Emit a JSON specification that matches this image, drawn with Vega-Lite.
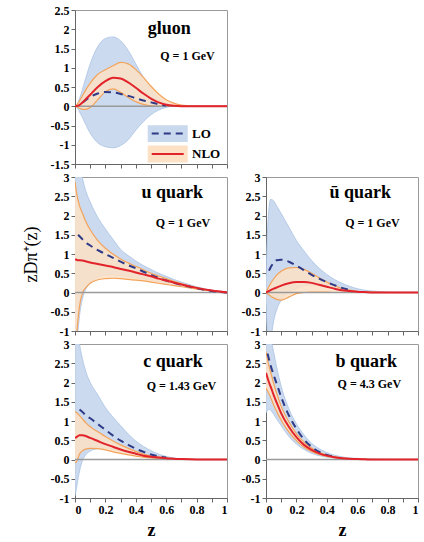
{
  "$schema": "https://vega.github.io/schema/vega-lite/v6.json",
  "padding": {"left": 21, "top": 3, "right": 0, "bottom": 0},
  "background": "white",
  "columns": 2,
  "bounds": "flush",
  "spacing": {"row": 13, "column": 39},
  "datasets": {
    "g": [
      {"z": 0, "lo": null, "lo_lo": 0, "lo_hi": 0, "nlo": 0, "nlo_lo": 0, "nlo_hi": 0},
      {"z": 0.01, "lo": null, "lo_lo": -0.03, "lo_hi": 0.03, "nlo": 0.005, "nlo_lo": -0.01, "nlo_hi": 0.03},
      {"z": 0.02, "lo": null, "lo_lo": -0.08, "lo_hi": 0.1, "nlo": 0.015, "nlo_lo": -0.03, "nlo_hi": 0.08},
      {"z": 0.03, "lo": null, "lo_lo": -0.15, "lo_hi": 0.2, "nlo": 0.035, "nlo_lo": -0.05, "nlo_hi": 0.14},
      {"z": 0.05, "lo": 0.1, "lo_lo": -0.3, "lo_hi": 0.45, "nlo": 0.1, "nlo_lo": -0.08, "nlo_hi": 0.28},
      {"z": 0.07, "lo": 0.16, "lo_lo": -0.47, "lo_hi": 0.72, "nlo": 0.18, "nlo_lo": -0.08, "nlo_hi": 0.42},
      {"z": 0.1, "lo": 0.24, "lo_lo": -0.7, "lo_hi": 1.1, "nlo": 0.3, "nlo_lo": -0.03, "nlo_hi": 0.6},
      {"z": 0.15, "lo": 0.33, "lo_lo": -0.95, "lo_hi": 1.55, "nlo": 0.5, "nlo_lo": 0.17, "nlo_hi": 0.83},
      {"z": 0.2, "lo": 0.37, "lo_lo": -1.05, "lo_hi": 1.76, "nlo": 0.65, "nlo_lo": 0.38, "nlo_hi": 0.95},
      {"z": 0.25, "lo": 0.36, "lo_lo": -1.08, "lo_hi": 1.8, "nlo": 0.74, "nlo_lo": 0.45, "nlo_hi": 1.05},
      {"z": 0.3, "lo": 0.32, "lo_lo": -1.02, "lo_hi": 1.7, "nlo": 0.72, "nlo_lo": 0.36, "nlo_hi": 1.14},
      {"z": 0.35, "lo": 0.27, "lo_lo": -0.87, "lo_hi": 1.45, "nlo": 0.62, "nlo_lo": 0.23, "nlo_hi": 1.1},
      {"z": 0.4, "lo": 0.21, "lo_lo": -0.62, "lo_hi": 1.1, "nlo": 0.48, "nlo_lo": 0.12, "nlo_hi": 0.95},
      {"z": 0.45, "lo": 0.15, "lo_lo": -0.4, "lo_hi": 0.75, "nlo": 0.33, "nlo_lo": 0.05, "nlo_hi": 0.75},
      {"z": 0.5, "lo": 0.1, "lo_lo": -0.22, "lo_hi": 0.45, "nlo": 0.2, "nlo_lo": 0.01, "nlo_hi": 0.52},
      {"z": 0.55, "lo": 0.05, "lo_lo": -0.1, "lo_hi": 0.22, "nlo": 0.1, "nlo_lo": 0, "nlo_hi": 0.32},
      {"z": 0.6, "lo": 0.02, "lo_lo": -0.03, "lo_hi": 0.08, "nlo": 0.04, "nlo_lo": 0, "nlo_hi": 0.17},
      {"z": 0.65, "lo": null, "lo_lo": 0, "lo_hi": 0.02, "nlo": 0.01, "nlo_lo": 0, "nlo_hi": 0.08},
      {"z": 0.7, "lo": null, "lo_lo": 0, "lo_hi": 0, "nlo": 0, "nlo_lo": 0, "nlo_hi": 0.03},
      {"z": 0.8, "lo": null, "lo_lo": 0, "lo_hi": 0, "nlo": 0, "nlo_lo": 0, "nlo_hi": 0},
      {"z": 0.9, "lo": null, "lo_lo": 0, "lo_hi": 0, "nlo": 0, "nlo_lo": 0, "nlo_hi": 0},
      {"z": 1, "lo": null, "lo_lo": 0, "lo_hi": 0, "nlo": 0, "nlo_lo": 0, "nlo_hi": 0}
    ],
    "u": [
      {"z": 0, "lo": null, "lo_lo": -3, "lo_hi": 5, "nlo": 0.86, "nlo_lo": -2.2, "nlo_hi": 2.88},
      {"z": 0.01, "lo": null, "lo_lo": -1.6, "lo_hi": 4, "nlo": 0.85, "nlo_lo": -1.2, "nlo_hi": 2.6},
      {"z": 0.02, "lo": 1.5, "lo_lo": -1.0, "lo_hi": 3.6, "nlo": 0.84, "nlo_lo": -0.7, "nlo_hi": 2.4},
      {"z": 0.03, "lo": 1.46, "lo_lo": -0.6, "lo_hi": 3.3, "nlo": 0.84, "nlo_lo": -0.35, "nlo_hi": 2.25},
      {"z": 0.05, "lo": 1.38, "lo_lo": -0.15, "lo_hi": 2.95, "nlo": 0.83, "nlo_lo": 0, "nlo_hi": 2.05},
      {"z": 0.07, "lo": 1.3, "lo_lo": 0.08, "lo_hi": 2.65, "nlo": 0.81, "nlo_lo": 0.12, "nlo_hi": 1.85},
      {"z": 0.1, "lo": 1.22, "lo_lo": 0.25, "lo_hi": 2.35, "nlo": 0.78, "nlo_lo": 0.24, "nlo_hi": 1.63},
      {"z": 0.15, "lo": 1.1, "lo_lo": 0.4, "lo_hi": 1.95, "nlo": 0.74, "nlo_lo": 0.33, "nlo_hi": 1.35},
      {"z": 0.2, "lo": 1.0, "lo_lo": 0.45, "lo_hi": 1.65, "nlo": 0.7, "nlo_lo": 0.36, "nlo_hi": 1.15},
      {"z": 0.25, "lo": 0.9, "lo_lo": 0.45, "lo_hi": 1.38, "nlo": 0.66, "nlo_lo": 0.37, "nlo_hi": 1.0},
      {"z": 0.3, "lo": 0.8, "lo_lo": 0.43, "lo_hi": 1.12, "nlo": 0.61, "nlo_lo": 0.36, "nlo_hi": 0.87},
      {"z": 0.35, "lo": 0.71, "lo_lo": 0.41, "lo_hi": 0.96, "nlo": 0.57, "nlo_lo": 0.34, "nlo_hi": 0.77},
      {"z": 0.4, "lo": 0.63, "lo_lo": 0.38, "lo_hi": 0.82, "nlo": 0.52, "nlo_lo": 0.32, "nlo_hi": 0.68},
      {"z": 0.45, "lo": 0.54, "lo_lo": 0.35, "lo_hi": 0.7, "nlo": 0.47, "nlo_lo": 0.3, "nlo_hi": 0.59},
      {"z": 0.5, "lo": 0.46, "lo_lo": 0.32, "lo_hi": 0.6, "nlo": 0.42, "nlo_lo": 0.27, "nlo_hi": 0.5},
      {"z": 0.55, "lo": 0.38, "lo_lo": 0.28, "lo_hi": 0.5, "nlo": 0.36, "nlo_lo": 0.24, "nlo_hi": 0.43},
      {"z": 0.6, "lo": 0.31, "lo_lo": 0.25, "lo_hi": 0.42, "nlo": 0.31, "nlo_lo": 0.21, "nlo_hi": 0.36},
      {"z": 0.65, "lo": 0.25, "lo_lo": 0.21, "lo_hi": 0.34, "nlo": 0.26, "nlo_lo": 0.18, "nlo_hi": 0.29},
      {"z": 0.7, "lo": 0.2, "lo_lo": 0.17, "lo_hi": 0.27, "nlo": 0.21, "nlo_lo": 0.15, "nlo_hi": 0.23},
      {"z": 0.8, "lo": 0.11, "lo_lo": 0.1, "lo_hi": 0.15, "nlo": 0.12, "nlo_lo": 0.09, "nlo_hi": 0.13},
      {"z": 0.9, "lo": 0.04, "lo_lo": 0.04, "lo_hi": 0.06, "nlo": 0.05, "nlo_lo": 0.04, "nlo_hi": 0.05},
      {"z": 1, "lo": 0, "lo_lo": 0, "lo_hi": 0, "nlo": 0, "nlo_lo": 0, "nlo_hi": 0}
    ],
    "ub": [
      {"z": 0, "lo": null, "lo_lo": -0.3, "lo_hi": 0.4, "nlo": 0, "nlo_lo": 0, "nlo_hi": 0},
      {"z": 0.01, "lo": null, "lo_lo": -1.2, "lo_hi": 1.6, "nlo": 0.02, "nlo_lo": -0.03, "nlo_hi": 0.08},
      {"z": 0.02, "lo": 0.57, "lo_lo": -1.6, "lo_hi": 2.2, "nlo": 0.04, "nlo_lo": -0.06, "nlo_hi": 0.16},
      {"z": 0.03, "lo": 0.65, "lo_lo": -1.3, "lo_hi": 2.42, "nlo": 0.06, "nlo_lo": -0.09, "nlo_hi": 0.23},
      {"z": 0.05, "lo": 0.77, "lo_lo": -0.75, "lo_hi": 2.38, "nlo": 0.1, "nlo_lo": -0.14, "nlo_hi": 0.35},
      {"z": 0.07, "lo": 0.84, "lo_lo": -0.45, "lo_hi": 2.25, "nlo": 0.13, "nlo_lo": -0.18, "nlo_hi": 0.45},
      {"z": 0.1, "lo": 0.85, "lo_lo": -0.2, "lo_hi": 2.05, "nlo": 0.18, "nlo_lo": -0.2, "nlo_hi": 0.55},
      {"z": 0.15, "lo": 0.8, "lo_lo": 0, "lo_hi": 1.7, "nlo": 0.24, "nlo_lo": -0.12, "nlo_hi": 0.64},
      {"z": 0.2, "lo": 0.7, "lo_lo": 0.1, "lo_hi": 1.35, "nlo": 0.27, "nlo_lo": -0.03, "nlo_hi": 0.65},
      {"z": 0.25, "lo": 0.58, "lo_lo": 0.17, "lo_hi": 1.08, "nlo": 0.27, "nlo_lo": 0, "nlo_hi": 0.6},
      {"z": 0.3, "lo": 0.46, "lo_lo": 0.19, "lo_hi": 0.83, "nlo": 0.25, "nlo_lo": 0.01, "nlo_hi": 0.5},
      {"z": 0.35, "lo": 0.36, "lo_lo": 0.17, "lo_hi": 0.63, "nlo": 0.2, "nlo_lo": 0.01, "nlo_hi": 0.38},
      {"z": 0.4, "lo": 0.27, "lo_lo": 0.13, "lo_hi": 0.47, "nlo": 0.15, "nlo_lo": 0.01, "nlo_hi": 0.27},
      {"z": 0.45, "lo": 0.19, "lo_lo": 0.09, "lo_hi": 0.34, "nlo": 0.1, "nlo_lo": 0, "nlo_hi": 0.18},
      {"z": 0.5, "lo": 0.12, "lo_lo": 0.06, "lo_hi": 0.24, "nlo": 0.06, "nlo_lo": 0, "nlo_hi": 0.1},
      {"z": 0.55, "lo": 0.07, "lo_lo": 0.04, "lo_hi": 0.16, "nlo": 0.04, "nlo_lo": 0, "nlo_hi": 0.06},
      {"z": 0.6, "lo": null, "lo_lo": 0.02, "lo_hi": 0.1, "nlo": 0.02, "nlo_lo": 0, "nlo_hi": 0.03},
      {"z": 0.65, "lo": null, "lo_lo": 0.01, "lo_hi": 0.06, "nlo": 0.01, "nlo_lo": 0, "nlo_hi": 0.02},
      {"z": 0.7, "lo": null, "lo_lo": 0, "lo_hi": 0.04, "nlo": 0, "nlo_lo": 0, "nlo_hi": 0.01},
      {"z": 0.8, "lo": null, "lo_lo": 0, "lo_hi": 0.01, "nlo": 0, "nlo_lo": 0, "nlo_hi": 0},
      {"z": 0.9, "lo": null, "lo_lo": 0, "lo_hi": 0, "nlo": 0, "nlo_lo": 0, "nlo_hi": 0},
      {"z": 1, "lo": null, "lo_lo": 0, "lo_hi": 0, "nlo": 0, "nlo_lo": 0, "nlo_hi": 0}
    ],
    "c": [
      {"z": 0, "lo": null, "lo_lo": -0.95, "lo_hi": 4.5, "nlo": 0.56, "nlo_lo": -0.08, "nlo_hi": 1.24},
      {"z": 0.01, "lo": null, "lo_lo": -0.75, "lo_hi": 3.8, "nlo": 0.58, "nlo_lo": -0.06, "nlo_hi": 1.22},
      {"z": 0.02, "lo": null, "lo_lo": -0.5, "lo_hi": 3.3, "nlo": 0.61, "nlo_lo": 0.04, "nlo_hi": 1.18},
      {"z": 0.03, "lo": 1.3, "lo_lo": -0.3, "lo_hi": 3.0, "nlo": 0.63, "nlo_lo": 0.14, "nlo_hi": 1.14},
      {"z": 0.05, "lo": 1.23, "lo_lo": -0.02, "lo_hi": 2.6, "nlo": 0.63, "nlo_lo": 0.23, "nlo_hi": 1.05},
      {"z": 0.07, "lo": 1.15, "lo_lo": 0.12, "lo_hi": 2.3, "nlo": 0.61, "nlo_lo": 0.27, "nlo_hi": 0.96},
      {"z": 0.1, "lo": 1.07, "lo_lo": 0.22, "lo_hi": 2.0, "nlo": 0.56, "nlo_lo": 0.29, "nlo_hi": 0.85},
      {"z": 0.15, "lo": 0.92, "lo_lo": 0.28, "lo_hi": 1.68, "nlo": 0.48, "nlo_lo": 0.28, "nlo_hi": 0.72},
      {"z": 0.2, "lo": 0.77, "lo_lo": 0.29, "lo_hi": 1.35, "nlo": 0.4, "nlo_lo": 0.25, "nlo_hi": 0.6},
      {"z": 0.25, "lo": 0.62, "lo_lo": 0.26, "lo_hi": 1.1, "nlo": 0.33, "nlo_lo": 0.2, "nlo_hi": 0.48},
      {"z": 0.3, "lo": 0.49, "lo_lo": 0.22, "lo_hi": 0.88, "nlo": 0.26, "nlo_lo": 0.16, "nlo_hi": 0.38},
      {"z": 0.35, "lo": 0.38, "lo_lo": 0.17, "lo_hi": 0.66, "nlo": 0.2, "nlo_lo": 0.12, "nlo_hi": 0.29},
      {"z": 0.4, "lo": 0.28, "lo_lo": 0.12, "lo_hi": 0.48, "nlo": 0.15, "nlo_lo": 0.09, "nlo_hi": 0.21},
      {"z": 0.45, "lo": 0.2, "lo_lo": 0.08, "lo_hi": 0.34, "nlo": 0.1, "nlo_lo": 0.06, "nlo_hi": 0.14},
      {"z": 0.5, "lo": 0.13, "lo_lo": 0.05, "lo_hi": 0.23, "nlo": 0.07, "nlo_lo": 0.04, "nlo_hi": 0.09},
      {"z": 0.55, "lo": 0.08, "lo_lo": 0.03, "lo_hi": 0.14, "nlo": 0.05, "nlo_lo": 0.03, "nlo_hi": 0.06},
      {"z": 0.6, "lo": 0.05, "lo_lo": 0.02, "lo_hi": 0.08, "nlo": 0.03, "nlo_lo": 0.02, "nlo_hi": 0.04},
      {"z": 0.65, "lo": null, "lo_lo": 0.01, "lo_hi": 0.04, "nlo": 0.02, "nlo_lo": 0.01, "nlo_hi": 0.02},
      {"z": 0.7, "lo": null, "lo_lo": 0, "lo_hi": 0.02, "nlo": 0.01, "nlo_lo": 0.005, "nlo_hi": 0.01},
      {"z": 0.8, "lo": null, "lo_lo": 0, "lo_hi": 0, "nlo": 0, "nlo_lo": 0, "nlo_hi": 0},
      {"z": 0.9, "lo": null, "lo_lo": 0, "lo_hi": 0, "nlo": 0, "nlo_lo": 0, "nlo_hi": 0},
      {"z": 1, "lo": null, "lo_lo": 0, "lo_hi": 0, "nlo": 0, "nlo_lo": 0, "nlo_hi": 0}
    ],
    "b": [
      {"z": 0, "lo": null, "lo_lo": 1.2, "lo_hi": 4.0, "nlo": 2.25, "nlo_lo": 1.85, "nlo_hi": 2.8},
      {"z": 0.01, "lo": 2.75, "lo_lo": 1.28, "lo_hi": 3.7, "nlo": 2.12, "nlo_lo": 1.78, "nlo_hi": 2.6},
      {"z": 0.02, "lo": 2.6, "lo_lo": 1.3, "lo_hi": 3.45, "nlo": 2.0, "nlo_lo": 1.7, "nlo_hi": 2.42},
      {"z": 0.03, "lo": 2.45, "lo_lo": 1.28, "lo_hi": 3.2, "nlo": 1.9, "nlo_lo": 1.62, "nlo_hi": 2.28},
      {"z": 0.05, "lo": 2.2, "lo_lo": 1.18, "lo_hi": 2.8, "nlo": 1.68, "nlo_lo": 1.42, "nlo_hi": 1.98},
      {"z": 0.07, "lo": 1.97, "lo_lo": 1.05, "lo_hi": 2.4, "nlo": 1.48, "nlo_lo": 1.25, "nlo_hi": 1.72},
      {"z": 0.1, "lo": 1.62, "lo_lo": 0.88, "lo_hi": 1.9, "nlo": 1.2, "nlo_lo": 1.02, "nlo_hi": 1.38},
      {"z": 0.15, "lo": 1.15, "lo_lo": 0.6, "lo_hi": 1.32, "nlo": 0.85, "nlo_lo": 0.72, "nlo_hi": 0.98},
      {"z": 0.2, "lo": 0.8, "lo_lo": 0.4, "lo_hi": 0.93, "nlo": 0.58, "nlo_lo": 0.49, "nlo_hi": 0.67},
      {"z": 0.25, "lo": 0.52, "lo_lo": 0.26, "lo_hi": 0.64, "nlo": 0.38, "nlo_lo": 0.32, "nlo_hi": 0.45},
      {"z": 0.3, "lo": 0.33, "lo_lo": 0.16, "lo_hi": 0.42, "nlo": 0.25, "nlo_lo": 0.21, "nlo_hi": 0.3},
      {"z": 0.35, "lo": 0.2, "lo_lo": 0.1, "lo_hi": 0.28, "nlo": 0.16, "nlo_lo": 0.13, "nlo_hi": 0.19},
      {"z": 0.4, "lo": 0.12, "lo_lo": 0.06, "lo_hi": 0.18, "nlo": 0.1, "nlo_lo": 0.08, "nlo_hi": 0.12},
      {"z": 0.45, "lo": 0.07, "lo_lo": 0.04, "lo_hi": 0.11, "nlo": 0.06, "nlo_lo": 0.05, "nlo_hi": 0.07},
      {"z": 0.5, "lo": null, "lo_lo": 0.02, "lo_hi": 0.07, "nlo": 0.035, "nlo_lo": 0.025, "nlo_hi": 0.045},
      {"z": 0.55, "lo": null, "lo_lo": 0.01, "lo_hi": 0.04, "nlo": 0.02, "nlo_lo": 0.015, "nlo_hi": 0.025},
      {"z": 0.6, "lo": null, "lo_lo": 0.005, "lo_hi": 0.03, "nlo": 0.01, "nlo_lo": 0.005, "nlo_hi": 0.015},
      {"z": 0.65, "lo": null, "lo_lo": 0, "lo_hi": 0.02, "nlo": 0.005, "nlo_lo": 0, "nlo_hi": 0.01},
      {"z": 0.7, "lo": null, "lo_lo": 0, "lo_hi": 0.01, "nlo": 0, "nlo_lo": 0, "nlo_hi": 0},
      {"z": 0.8, "lo": null, "lo_lo": 0, "lo_hi": 0, "nlo": 0, "nlo_lo": 0, "nlo_hi": 0},
      {"z": 0.9, "lo": null, "lo_lo": 0, "lo_hi": 0, "nlo": 0, "nlo_lo": 0, "nlo_hi": 0},
      {"z": 1, "lo": null, "lo_lo": 0, "lo_hi": 0, "nlo": 0, "nlo_lo": 0, "nlo_hi": 0}
    ],
    "one": [{"k": 1}]
  },
  "concat": [
    {
      "width": 152, "height": 154,
      "resolve": {"axis": {"x": "independent", "y": "independent"}},
      "layer": [
        {"data": {"name": "g"}, "mark": {"type": "area", "color": "#c8d8ed", "opacity": 0.95, "interpolate": "monotone", "clip": true},
         "encoding": {
           "x": {"field": "z", "type": "quantitative", "scale": {"domain": [0, 1], "nice": false}, "axis": {"values": [0, 0.1, 0.2, 0.3, 0.4, 0.5, 0.6, 0.7, 0.8, 0.9, 1], "labels": false, "title": null}},
           "y": {"field": "lo_hi", "type": "quantitative", "scale": {"domain": [-1.5, 2.5], "nice": false, "zero": false}, "axis": {"values": [-1.5, -1, -0.5, 0, 0.5, 1, 1.5, 2, 2.5], "labelExpr": "'' + datum.value", "labelOverlap": false, "title": null}},
           "y2": {"field": "lo_lo"}}},
        {"data": {"name": "g"}, "mark": {"type": "line", "color": "#a9c3e4", "strokeWidth": 0.8, "interpolate": "monotone", "clip": true},
         "encoding": {"x": {"field": "z", "type": "quantitative", "axis": null}, "y": {"field": "lo_hi", "type": "quantitative", "axis": null}}},
        {"data": {"name": "g"}, "mark": {"type": "line", "color": "#a9c3e4", "strokeWidth": 0.8, "interpolate": "monotone", "clip": true},
         "encoding": {"x": {"field": "z", "type": "quantitative", "axis": null}, "y": {"field": "lo_lo", "type": "quantitative", "axis": null}}},
        {"data": {"name": "g"}, "mark": {"type": "area", "color": "#fde1c4", "opacity": 0.85, "interpolate": "monotone", "clip": true},
         "encoding": {"x": {"field": "z", "type": "quantitative", "axis": null}, "y": {"field": "nlo_hi", "type": "quantitative", "axis": null}, "y2": {"field": "nlo_lo"}}},
        {"data": {"name": "g"}, "mark": {"type": "line", "color": "#f3a35a", "strokeWidth": 1.2, "interpolate": "monotone", "clip": true},
         "encoding": {"x": {"field": "z", "type": "quantitative", "axis": null}, "y": {"field": "nlo_hi", "type": "quantitative", "axis": null}}},
        {"data": {"name": "g"}, "mark": {"type": "line", "color": "#f3a35a", "strokeWidth": 1.2, "interpolate": "monotone", "clip": true},
         "encoding": {"x": {"field": "z", "type": "quantitative", "axis": null}, "y": {"field": "nlo_lo", "type": "quantitative", "axis": null}}},
        {"data": {"name": "one"}, "mark": {"type": "rule", "color": "#9a9a9a", "strokeWidth": 1.5}, "encoding": {"y": {"datum": 0, "axis": null}}},
        {"data": {"name": "g"}, "mark": {"type": "line", "color": "#2e3a87", "strokeWidth": 2, "strokeDash": [7, 5], "interpolate": "monotone", "clip": true},
         "encoding": {"x": {"field": "z", "type": "quantitative", "axis": null}, "y": {"field": "lo", "type": "quantitative", "axis": null}}},
        {"data": {"name": "g"}, "mark": {"type": "line", "color": "#e2232b", "strokeWidth": 2, "interpolate": "monotone", "clip": true},
         "encoding": {"x": {"field": "z", "type": "quantitative", "axis": null}, "y": {"field": "nlo", "type": "quantitative", "axis": null}}},
        {"data": {"name": "one"}, "mark": {"type": "text", "text": "gluon", "font": "Liberation Serif", "fontWeight": "bold", "fontSize": 18, "align": "center", "baseline": "middle"},
         "encoding": {"x": {"datum": 0.62, "axis": null}, "y": {"datum": 2.0, "axis": null}}},
        {"data": {"name": "one"}, "mark": {"type": "text", "text": "Q = 1 GeV", "font": "Liberation Serif", "fontWeight": "bold", "fontSize": 12, "align": "center", "baseline": "middle"},
         "encoding": {"x": {"datum": 0.74, "axis": null}, "y": {"datum": 1.3, "axis": null}}},
        {"data": {"name": "one"}, "mark": {"type": "point", "shape": "M-1,-0.42H1V0.42H-1Z", "size": 1600, "filled": true, "color": "#c8d8ed", "opacity": 1},
         "encoding": {"x": {"datum": 0.61, "axis": null}, "y": {"datum": -0.71, "axis": null}}},
        {"data": {"name": "one"}, "mark": {"type": "point", "shape": "M-0.8,0H0.8", "size": 1600, "filled": false, "color": "#2e3a87", "strokeWidth": 2, "strokeDash": [7, 5], "opacity": 1},
         "encoding": {"x": {"datum": 0.61, "axis": null}, "y": {"datum": -0.71, "axis": null}}},
        {"data": {"name": "one"}, "mark": {"type": "point", "shape": "M-1,-0.42H1V0.42H-1Z", "size": 1600, "filled": true, "color": "#fde1c4", "opacity": 1},
         "encoding": {"x": {"datum": 0.61, "axis": null}, "y": {"datum": -1.24, "axis": null}}},
        {"data": {"name": "one"}, "mark": {"type": "point", "shape": "M-0.8,0H0.8", "size": 1600, "filled": false, "color": "#e2232b", "strokeWidth": 2, "opacity": 1},
         "encoding": {"x": {"datum": 0.61, "axis": null}, "y": {"datum": -1.24, "axis": null}}},
        {"data": {"name": "one"}, "mark": {"type": "text", "text": "LO", "font": "Liberation Serif", "fontWeight": "bold", "fontSize": 13, "align": "left", "baseline": "middle"},
         "encoding": {"x": {"datum": 0.77, "axis": null}, "y": {"datum": -0.71, "axis": null}}},
        {"data": {"name": "one"}, "mark": {"type": "text", "text": "NLO", "font": "Liberation Serif", "fontWeight": "bold", "fontSize": 13, "align": "left", "baseline": "middle"},
         "encoding": {"x": {"datum": 0.77, "axis": null}, "y": {"datum": -1.24, "axis": null}}}
      ]
    },
    {
      "width": 152, "height": 154,
      "view": {"stroke": null},
      "data": {"name": "one"},
      "mark": {"type": "text", "text": ""},
      "encoding": {}
    },
    {
      "width": 152, "height": 154,
      "resolve": {"axis": {"x": "independent", "y": "independent"}},
      "layer": [
        {"data": {"name": "u"}, "mark": {"type": "area", "color": "#c8d8ed", "opacity": 0.95, "interpolate": "monotone", "clip": true},
         "encoding": {
           "x": {"field": "z", "type": "quantitative", "scale": {"domain": [0, 1], "nice": false}, "axis": {"values": [0, 0.1, 0.2, 0.3, 0.4, 0.5, 0.6, 0.7, 0.8, 0.9, 1], "labels": false, "title": null}},
           "y": {"field": "lo_hi", "type": "quantitative", "scale": {"domain": [-1, 3], "nice": false, "zero": false}, "axis": {"values": [-1, -0.5, 0, 0.5, 1, 1.5, 2, 2.5, 3], "labelExpr": "'' + datum.value", "labelOverlap": false, "title": "zDπ⁺(z)", "titleFont": "Liberation Serif", "titleFontWeight": "normal", "titleFontSize": 18, "titlePadding": 10}},
           "y2": {"field": "lo_lo"}}},
        {"data": {"name": "u"}, "mark": {"type": "line", "color": "#a9c3e4", "strokeWidth": 0.8, "interpolate": "monotone", "clip": true},
         "encoding": {"x": {"field": "z", "type": "quantitative", "axis": null}, "y": {"field": "lo_hi", "type": "quantitative", "axis": null}}},
        {"data": {"name": "u"}, "mark": {"type": "line", "color": "#a9c3e4", "strokeWidth": 0.8, "interpolate": "monotone", "clip": true},
         "encoding": {"x": {"field": "z", "type": "quantitative", "axis": null}, "y": {"field": "lo_lo", "type": "quantitative", "axis": null}}},
        {"data": {"name": "u"}, "mark": {"type": "area", "color": "#fde1c4", "opacity": 0.85, "interpolate": "monotone", "clip": true},
         "encoding": {"x": {"field": "z", "type": "quantitative", "axis": null}, "y": {"field": "nlo_hi", "type": "quantitative", "axis": null}, "y2": {"field": "nlo_lo"}}},
        {"data": {"name": "u"}, "mark": {"type": "line", "color": "#f3a35a", "strokeWidth": 1.2, "interpolate": "monotone", "clip": true},
         "encoding": {"x": {"field": "z", "type": "quantitative", "axis": null}, "y": {"field": "nlo_hi", "type": "quantitative", "axis": null}}},
        {"data": {"name": "u"}, "mark": {"type": "line", "color": "#f3a35a", "strokeWidth": 1.2, "interpolate": "monotone", "clip": true},
         "encoding": {"x": {"field": "z", "type": "quantitative", "axis": null}, "y": {"field": "nlo_lo", "type": "quantitative", "axis": null}}},
        {"data": {"name": "one"}, "mark": {"type": "rule", "color": "#9a9a9a", "strokeWidth": 1.5}, "encoding": {"y": {"datum": 0, "axis": null}}},
        {"data": {"name": "u"}, "mark": {"type": "line", "color": "#2e3a87", "strokeWidth": 2, "strokeDash": [7, 5], "interpolate": "monotone", "clip": true},
         "encoding": {"x": {"field": "z", "type": "quantitative", "axis": null}, "y": {"field": "lo", "type": "quantitative", "axis": null}}},
        {"data": {"name": "u"}, "mark": {"type": "line", "color": "#e2232b", "strokeWidth": 2, "interpolate": "monotone", "clip": true},
         "encoding": {"x": {"field": "z", "type": "quantitative", "axis": null}, "y": {"field": "nlo", "type": "quantitative", "axis": null}}},
        {"data": {"name": "one"}, "mark": {"type": "text", "text": "u quark", "font": "Liberation Serif", "fontWeight": "bold", "fontSize": 18, "align": "center", "baseline": "middle"},
         "encoding": {"x": {"datum": 0.64, "axis": null}, "y": {"datum": 2.58, "axis": null}}},
        {"data": {"name": "one"}, "mark": {"type": "text", "text": "Q = 1 GeV", "font": "Liberation Serif", "fontWeight": "bold", "fontSize": 12, "align": "center", "baseline": "middle"},
         "encoding": {"x": {"datum": 0.71, "axis": null}, "y": {"datum": 1.8, "axis": null}}}
      ]
    },
    {
      "width": 152, "height": 154,
      "resolve": {"axis": {"x": "independent", "y": "independent"}},
      "layer": [
        {"data": {"name": "ub"}, "mark": {"type": "area", "color": "#c8d8ed", "opacity": 0.95, "interpolate": "monotone", "clip": true},
         "encoding": {
           "x": {"field": "z", "type": "quantitative", "scale": {"domain": [0, 1], "nice": false}, "axis": {"values": [0, 0.1, 0.2, 0.3, 0.4, 0.5, 0.6, 0.7, 0.8, 0.9, 1], "labels": false, "title": null}},
           "y": {"field": "lo_hi", "type": "quantitative", "scale": {"domain": [-1, 3], "nice": false, "zero": false}, "axis": {"values": [-1, -0.5, 0, 0.5, 1, 1.5, 2, 2.5, 3], "labelExpr": "'' + datum.value", "labelOverlap": false, "title": null}},
           "y2": {"field": "lo_lo"}}},
        {"data": {"name": "ub"}, "mark": {"type": "line", "color": "#a9c3e4", "strokeWidth": 0.8, "interpolate": "monotone", "clip": true},
         "encoding": {"x": {"field": "z", "type": "quantitative", "axis": null}, "y": {"field": "lo_hi", "type": "quantitative", "axis": null}}},
        {"data": {"name": "ub"}, "mark": {"type": "line", "color": "#a9c3e4", "strokeWidth": 0.8, "interpolate": "monotone", "clip": true},
         "encoding": {"x": {"field": "z", "type": "quantitative", "axis": null}, "y": {"field": "lo_lo", "type": "quantitative", "axis": null}}},
        {"data": {"name": "ub"}, "mark": {"type": "area", "color": "#fde1c4", "opacity": 0.85, "interpolate": "monotone", "clip": true},
         "encoding": {"x": {"field": "z", "type": "quantitative", "axis": null}, "y": {"field": "nlo_hi", "type": "quantitative", "axis": null}, "y2": {"field": "nlo_lo"}}},
        {"data": {"name": "ub"}, "mark": {"type": "line", "color": "#f3a35a", "strokeWidth": 1.2, "interpolate": "monotone", "clip": true},
         "encoding": {"x": {"field": "z", "type": "quantitative", "axis": null}, "y": {"field": "nlo_hi", "type": "quantitative", "axis": null}}},
        {"data": {"name": "ub"}, "mark": {"type": "line", "color": "#f3a35a", "strokeWidth": 1.2, "interpolate": "monotone", "clip": true},
         "encoding": {"x": {"field": "z", "type": "quantitative", "axis": null}, "y": {"field": "nlo_lo", "type": "quantitative", "axis": null}}},
        {"data": {"name": "one"}, "mark": {"type": "rule", "color": "#9a9a9a", "strokeWidth": 1.5}, "encoding": {"y": {"datum": 0, "axis": null}}},
        {"data": {"name": "ub"}, "mark": {"type": "line", "color": "#2e3a87", "strokeWidth": 2, "strokeDash": [7, 5], "interpolate": "monotone", "clip": true},
         "encoding": {"x": {"field": "z", "type": "quantitative", "axis": null}, "y": {"field": "lo", "type": "quantitative", "axis": null}}},
        {"data": {"name": "ub"}, "mark": {"type": "line", "color": "#e2232b", "strokeWidth": 2, "interpolate": "monotone", "clip": true},
         "encoding": {"x": {"field": "z", "type": "quantitative", "axis": null}, "y": {"field": "nlo", "type": "quantitative", "axis": null}}},
        {"data": {"name": "one"}, "mark": {"type": "text", "text": "ū quark", "font": "Liberation Serif", "fontWeight": "bold", "fontSize": 18, "align": "center", "baseline": "middle"},
         "encoding": {"x": {"datum": 0.62, "axis": null}, "y": {"datum": 2.58, "axis": null}}},
        {"data": {"name": "one"}, "mark": {"type": "text", "text": "Q = 1 GeV", "font": "Liberation Serif", "fontWeight": "bold", "fontSize": 12, "align": "center", "baseline": "middle"},
         "encoding": {"x": {"datum": 0.7, "axis": null}, "y": {"datum": 1.8, "axis": null}}}
      ]
    },
    {
      "width": 152, "height": 154,
      "resolve": {"axis": {"x": "independent", "y": "independent"}},
      "layer": [
        {"data": {"name": "c"}, "mark": {"type": "area", "color": "#c8d8ed", "opacity": 0.95, "interpolate": "monotone", "clip": true},
         "encoding": {
           "x": {"field": "z", "type": "quantitative", "scale": {"domain": [0, 1], "nice": false}, "axis": {"values": [0, 0.1, 0.2, 0.3, 0.4, 0.5, 0.6, 0.7, 0.8, 0.9, 1], "labelExpr": "round(datum.value * 10) % 2 == 0 ? '' + datum.value : ''", "labelOverlap": false, "title": "z", "titleFont": "Liberation Serif", "titleFontSize": 18, "titleFontWeight": "bold", "titlePadding": 6}},
           "y": {"field": "lo_hi", "type": "quantitative", "scale": {"domain": [-1, 3], "nice": false, "zero": false}, "axis": {"values": [-1, -0.5, 0, 0.5, 1, 1.5, 2, 2.5, 3], "labelExpr": "'' + datum.value", "labelOverlap": false, "title": null}},
           "y2": {"field": "lo_lo"}}},
        {"data": {"name": "c"}, "mark": {"type": "line", "color": "#a9c3e4", "strokeWidth": 0.8, "interpolate": "monotone", "clip": true},
         "encoding": {"x": {"field": "z", "type": "quantitative", "axis": null}, "y": {"field": "lo_hi", "type": "quantitative", "axis": null}}},
        {"data": {"name": "c"}, "mark": {"type": "line", "color": "#a9c3e4", "strokeWidth": 0.8, "interpolate": "monotone", "clip": true},
         "encoding": {"x": {"field": "z", "type": "quantitative", "axis": null}, "y": {"field": "lo_lo", "type": "quantitative", "axis": null}}},
        {"data": {"name": "c"}, "mark": {"type": "area", "color": "#fde1c4", "opacity": 0.85, "interpolate": "monotone", "clip": true},
         "encoding": {"x": {"field": "z", "type": "quantitative", "axis": null}, "y": {"field": "nlo_hi", "type": "quantitative", "axis": null}, "y2": {"field": "nlo_lo"}}},
        {"data": {"name": "c"}, "mark": {"type": "line", "color": "#f3a35a", "strokeWidth": 1.2, "interpolate": "monotone", "clip": true},
         "encoding": {"x": {"field": "z", "type": "quantitative", "axis": null}, "y": {"field": "nlo_hi", "type": "quantitative", "axis": null}}},
        {"data": {"name": "c"}, "mark": {"type": "line", "color": "#f3a35a", "strokeWidth": 1.2, "interpolate": "monotone", "clip": true},
         "encoding": {"x": {"field": "z", "type": "quantitative", "axis": null}, "y": {"field": "nlo_lo", "type": "quantitative", "axis": null}}},
        {"data": {"name": "one"}, "mark": {"type": "rule", "color": "#9a9a9a", "strokeWidth": 1.5}, "encoding": {"y": {"datum": 0, "axis": null}}},
        {"data": {"name": "c"}, "mark": {"type": "line", "color": "#2e3a87", "strokeWidth": 2, "strokeDash": [7, 5], "interpolate": "monotone", "clip": true},
         "encoding": {"x": {"field": "z", "type": "quantitative", "axis": null}, "y": {"field": "lo", "type": "quantitative", "axis": null}}},
        {"data": {"name": "c"}, "mark": {"type": "line", "color": "#e2232b", "strokeWidth": 2, "interpolate": "monotone", "clip": true},
         "encoding": {"x": {"field": "z", "type": "quantitative", "axis": null}, "y": {"field": "nlo", "type": "quantitative", "axis": null}}},
        {"data": {"name": "one"}, "mark": {"type": "text", "text": "c quark", "font": "Liberation Serif", "fontWeight": "bold", "fontSize": 18, "align": "center", "baseline": "middle"},
         "encoding": {"x": {"datum": 0.645, "axis": null}, "y": {"datum": 2.54, "axis": null}}},
        {"data": {"name": "one"}, "mark": {"type": "text", "text": "Q = 1.43 GeV", "font": "Liberation Serif", "fontWeight": "bold", "fontSize": 12, "align": "center", "baseline": "middle"},
         "encoding": {"x": {"datum": 0.7, "axis": null}, "y": {"datum": 1.9, "axis": null}}}
      ]
    },
    {
      "width": 152, "height": 154,
      "resolve": {"axis": {"x": "independent", "y": "independent"}},
      "layer": [
        {"data": {"name": "b"}, "mark": {"type": "area", "color": "#c8d8ed", "opacity": 0.95, "interpolate": "monotone", "clip": true},
         "encoding": {
           "x": {"field": "z", "type": "quantitative", "scale": {"domain": [0, 1], "nice": false}, "axis": {"values": [0, 0.1, 0.2, 0.3, 0.4, 0.5, 0.6, 0.7, 0.8, 0.9, 1], "labelExpr": "round(datum.value * 10) % 2 == 0 ? '' + datum.value : ''", "labelOverlap": false, "title": "z", "titleFont": "Liberation Serif", "titleFontSize": 18, "titleFontWeight": "bold", "titlePadding": 6}},
           "y": {"field": "lo_hi", "type": "quantitative", "scale": {"domain": [-1, 3], "nice": false, "zero": false}, "axis": {"values": [-1, -0.5, 0, 0.5, 1, 1.5, 2, 2.5, 3], "labelExpr": "'' + datum.value", "labelOverlap": false, "title": null}},
           "y2": {"field": "lo_lo"}}},
        {"data": {"name": "b"}, "mark": {"type": "line", "color": "#a9c3e4", "strokeWidth": 0.8, "interpolate": "monotone", "clip": true},
         "encoding": {"x": {"field": "z", "type": "quantitative", "axis": null}, "y": {"field": "lo_hi", "type": "quantitative", "axis": null}}},
        {"data": {"name": "b"}, "mark": {"type": "line", "color": "#a9c3e4", "strokeWidth": 0.8, "interpolate": "monotone", "clip": true},
         "encoding": {"x": {"field": "z", "type": "quantitative", "axis": null}, "y": {"field": "lo_lo", "type": "quantitative", "axis": null}}},
        {"data": {"name": "b"}, "mark": {"type": "area", "color": "#fde1c4", "opacity": 0.85, "interpolate": "monotone", "clip": true},
         "encoding": {"x": {"field": "z", "type": "quantitative", "axis": null}, "y": {"field": "nlo_hi", "type": "quantitative", "axis": null}, "y2": {"field": "nlo_lo"}}},
        {"data": {"name": "b"}, "mark": {"type": "line", "color": "#f3a35a", "strokeWidth": 1.2, "interpolate": "monotone", "clip": true},
         "encoding": {"x": {"field": "z", "type": "quantitative", "axis": null}, "y": {"field": "nlo_hi", "type": "quantitative", "axis": null}}},
        {"data": {"name": "b"}, "mark": {"type": "line", "color": "#f3a35a", "strokeWidth": 1.2, "interpolate": "monotone", "clip": true},
         "encoding": {"x": {"field": "z", "type": "quantitative", "axis": null}, "y": {"field": "nlo_lo", "type": "quantitative", "axis": null}}},
        {"data": {"name": "one"}, "mark": {"type": "rule", "color": "#9a9a9a", "strokeWidth": 1.5}, "encoding": {"y": {"datum": 0, "axis": null}}},
        {"data": {"name": "b"}, "mark": {"type": "line", "color": "#2e3a87", "strokeWidth": 2, "strokeDash": [7, 5], "interpolate": "monotone", "clip": true},
         "encoding": {"x": {"field": "z", "type": "quantitative", "axis": null}, "y": {"field": "lo", "type": "quantitative", "axis": null}}},
        {"data": {"name": "b"}, "mark": {"type": "line", "color": "#e2232b", "strokeWidth": 2, "interpolate": "monotone", "clip": true},
         "encoding": {"x": {"field": "z", "type": "quantitative", "axis": null}, "y": {"field": "nlo", "type": "quantitative", "axis": null}}},
        {"data": {"name": "one"}, "mark": {"type": "text", "text": "b quark", "font": "Liberation Serif", "fontWeight": "bold", "fontSize": 18, "align": "center", "baseline": "middle"},
         "encoding": {"x": {"datum": 0.66, "axis": null}, "y": {"datum": 2.54, "axis": null}}},
        {"data": {"name": "one"}, "mark": {"type": "text", "text": "Q = 4.3 GeV", "font": "Liberation Serif", "fontWeight": "bold", "fontSize": 12, "align": "center", "baseline": "middle"},
         "encoding": {"x": {"datum": 0.68, "axis": null}, "y": {"datum": 1.97, "axis": null}}}
      ]
    }
  ],
  "config": {
    "view": {"stroke": "#9a9a9a", "strokeWidth": 1},
    "axis": {
      "grid": false,
      "labelFont": "Liberation Serif",
      "labelFontWeight": "bold",
      "labelFontSize": 12,
      "labelColor": "#000000",
      "tickColor": "#666666",
      "domainColor": "#666666",
      "tickSize": 4,
      "labelPadding": 2,
      "labelOverlap": false,
      "titleColor": "#000000"
    }
  }
}
